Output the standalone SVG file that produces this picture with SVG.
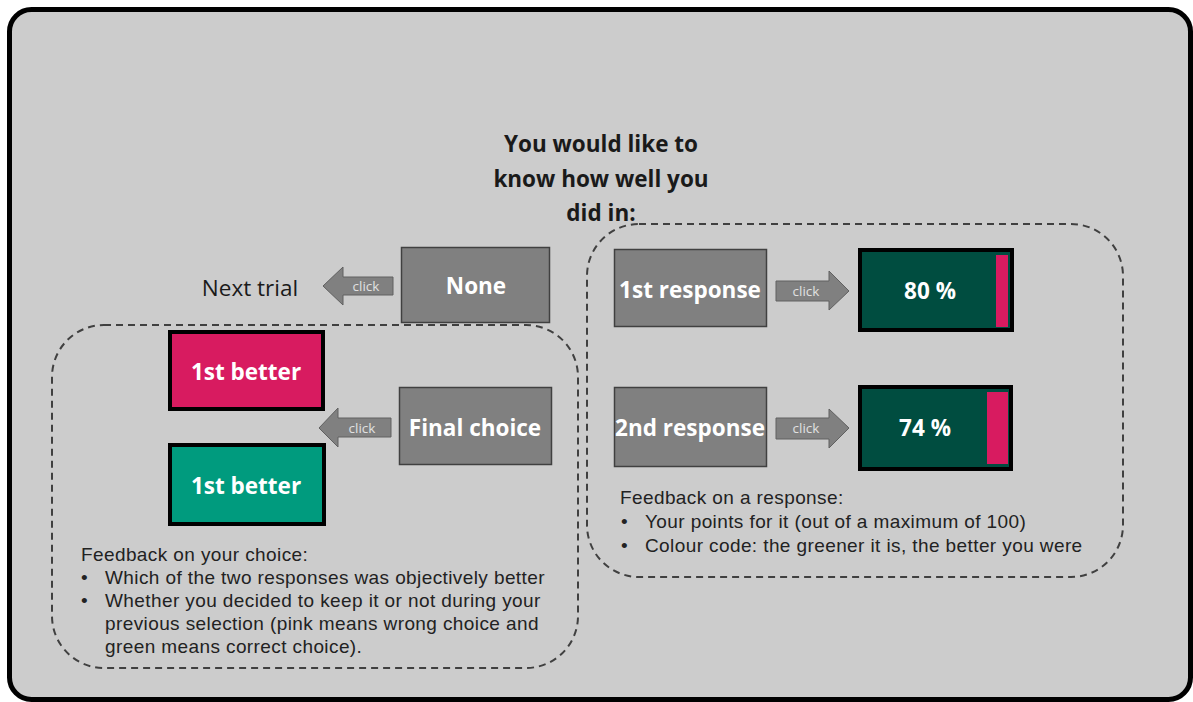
<svg xmlns="http://www.w3.org/2000/svg" width="1193" height="702" viewBox="0 0 1193 702">
<defs>
<style>
.bg{fill:#cccccc;stroke:#000;stroke-width:5}
.gbox{fill:#808080;stroke:#404040;stroke-width:1.5}
.cbox{stroke:#000;stroke-width:4}
.btxt{font-family:"Open Sans","DejaVu Sans",sans-serif;font-weight:bold;font-size:22.5px;fill:#fff;text-anchor:middle;dominant-baseline:central}
.title{font-family:"Open Sans","DejaVu Sans",sans-serif;font-weight:bold;font-size:22.5px;fill:#1a1a1a;text-anchor:middle}
.arrow{fill:#808080;stroke:#606060;stroke-width:1}
.click{font-family:"Open Sans","DejaVu Sans",sans-serif;font-size:13.5px;fill:#e0e0e0;text-anchor:middle;dominant-baseline:central}
.dash{fill:none;stroke:#404040;stroke-width:2;stroke-dasharray:7,5}
.fb{font-family:"Liberation Sans","Arial",sans-serif;font-size:19px;letter-spacing:0.4px;fill:#222}
</style>
</defs>
<rect class="bg" x="9.5" y="9.5" width="1181" height="690" rx="22"/>
<g id="title">
<text class="title" x="601" y="152">You would like to</text>
<text class="title" x="601" y="187">know how well you</text>
<text class="title" x="601" y="221">did in:</text>
</g>
<g id="groups">
<rect class="dash" x="52" y="325" width="526" height="343" rx="52"/>
<rect class="dash" x="587" y="224" width="536" height="353" rx="52"/>
</g>
<g id="connectors">
<g id="arrow-none">
<polygon class="arrow" points="323,286 343,267 343,277 393,277 393,295 343,295 343,305"/>
<text class="click" x="366" y="286">click</text>
</g>
<g id="arrow-final">
<polygon class="arrow" points="319,428 338,408 338,418 391,418 391,437 338,437 338,447"/>
<text class="click" x="362" y="428">click</text>
</g>
<g id="arrow-r1">
<polygon class="arrow" points="849,291 829,271 829,281 776,281 776,301 829,301 829,310"/>
<text class="click" x="806" y="291">click</text>
</g>
<g id="arrow-r2">
<polygon class="arrow" points="849,428 829,409 829,418 776,418 776,439 829,439 829,448"/>
<text class="click" x="806" y="428">click</text>
</g>
</g>
<g id="next-trial">
<text x="250" y="287" style="font-family:'Open Sans','DejaVu Sans',sans-serif;font-size:22.5px;fill:#1a1a1a;text-anchor:middle;dominant-baseline:central">Next trial</text>
</g>
<g id="none">
<rect class="gbox" x="401.5" y="247.5" width="148" height="75"/>
<text class="btxt" x="476" y="285">None</text>
</g>
<g id="final-choice">
<rect class="gbox" x="399.5" y="387.5" width="152" height="77"/>
<text class="btxt" x="475" y="427">Final choice</text>
</g>
<g id="better-pink">
<rect class="cbox" x="170" y="332" width="153" height="77" fill="#d81b60"/>
<text class="btxt" x="246" y="371">1st better</text>
</g>
<g id="better-green">
<rect class="cbox" x="170" y="445" width="154" height="79" fill="#009b7e"/>
<text class="btxt" x="246" y="485">1st better</text>
</g>
<g id="resp1">
<rect class="gbox" x="614.5" y="249.5" width="152" height="77"/>
<text class="btxt" x="690" y="289">1st response</text>
</g>
<g id="resp2">
<rect class="gbox" x="614.5" y="387.5" width="152" height="79"/>
<text class="btxt" x="690" y="427">2nd response</text>
</g>
<g id="score80">
<rect class="cbox" x="860" y="250" width="152" height="80" fill="#004d40"/>
<rect x="996" y="255" width="12" height="72" fill="#d81b60"/>
<text class="btxt" x="930" y="290">80 %</text>
</g>
<g id="score74">
<rect class="cbox" x="860" y="387" width="151" height="82" fill="#004d40"/>
<rect x="987" y="392" width="21" height="72" fill="#d81b60"/>
<text class="btxt" x="925" y="427">74 %</text>
</g>
<g id="feedback-choice">
<text class="fb" x="81" y="561">Feedback on your choice:</text>
<text class="fb" x="81" y="584">•</text>
<text class="fb" x="105" y="584">Which of the two responses was objectively better</text>
<text class="fb" x="81" y="607">•</text>
<text class="fb" x="105" y="607">Whether you decided to keep it or not during your</text>
<text class="fb" x="105" y="630">previous selection (pink means wrong choice and</text>
<text class="fb" x="105" y="653">green means correct choice).</text>
</g>
<g id="feedback-response">
<text class="fb" x="620" y="504">Feedback on a response:</text>
<text class="fb" x="621" y="528">•</text>
<text class="fb" x="645" y="528">Your points for it (out of a maximum of 100)</text>
<text class="fb" x="621" y="552">•</text>
<text class="fb" x="645" y="552">Colour code: the greener it is, the better you were</text>
</g>
</svg>
